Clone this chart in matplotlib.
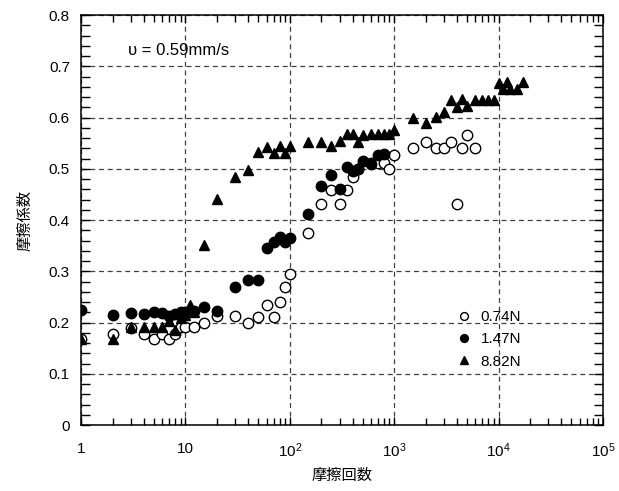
import matplotlib
matplotlib.use('Agg')
import matplotlib.pyplot as plt
from matplotlib.ticker import LogLocator, MultipleLocator, FixedLocator, NullFormatter

plt.rcParams['font.family'] = ['Liberation Sans', 'Noto Sans CJK JP']
plt.rcParams['mathtext.fontset'] = 'custom'
plt.rcParams['mathtext.rm'] = 'Liberation Sans'

# 0.74N
x_074 = [1, 2, 3, 4, 5, 6, 7, 8, 9, 10, 12, 15, 20, 30, 40, 50, 60, 70, 80, 90, 100,
         150, 200, 250, 300, 350, 400, 450, 600, 700, 800, 900, 1000,
         1500, 2000, 2500, 3000, 3500, 4000, 4500, 5000, 6000]
y_074 = [0.169, 0.178, 0.19, 0.178, 0.169, 0.178, 0.169, 0.178, 0.192, 0.192,
         0.192, 0.2, 0.214, 0.214, 0.199, 0.212, 0.234, 0.212, 0.24, 0.269, 0.296,
         0.376, 0.432, 0.459, 0.432, 0.459, 0.485, 0.5,
         0.512, 0.512, 0.512, 0.5, 0.527,
         0.54, 0.553, 0.54, 0.54, 0.553, 0.431, 0.54, 0.566, 0.54]

# 1.47N
x_147 = [1, 2, 3, 4, 5, 6, 7, 8, 9, 10, 12, 15, 20, 30, 40, 50, 60, 70, 80, 90, 100,
         150, 200, 250, 300, 350, 400, 450, 500, 600, 700, 800]
y_147 = [0.225, 0.215, 0.219, 0.217, 0.221, 0.218, 0.214, 0.217, 0.22, 0.22,
         0.223, 0.23, 0.223, 0.27, 0.283, 0.283, 0.345, 0.358, 0.368, 0.357, 0.366,
         0.412, 0.467, 0.488, 0.461, 0.503, 0.496, 0.5, 0.516, 0.509, 0.527, 0.529]

# 8.82N
x_882 = [1, 2, 3, 4, 5, 6, 7, 8, 9, 10, 11, 12, 15, 20, 30, 40, 50, 60, 70, 80, 90, 100,
         150, 200, 250, 300, 350, 400, 450, 500, 600, 700, 800, 900, 1000,
         1500, 2000, 2500, 3000, 3500, 4000, 4500, 5000, 6000, 7000, 8000, 9000,
         10000, 11000, 12000, 13000, 15000, 17000]
y_882 = [0.168, 0.168, 0.192, 0.191, 0.191, 0.191, 0.204, 0.186, 0.21, 0.215, 0.235, 0.22,
         0.352, 0.442, 0.485, 0.498, 0.533, 0.543, 0.532, 0.545, 0.532, 0.545,
         0.553, 0.553, 0.545, 0.555, 0.568, 0.568, 0.553, 0.566,
         0.568, 0.568, 0.568, 0.568, 0.576,
         0.6, 0.59, 0.601, 0.612, 0.634, 0.621, 0.636, 0.623, 0.634, 0.634, 0.634, 0.634,
         0.668, 0.657, 0.67, 0.657, 0.657, 0.67]

labels = ['0.74N', '1.47N', '8.82N']
xticks = [1, 10, 100, 1000, 10000, 100000]
xtick_labels = ['1', '10', r'$\mathregular{10^{2}}$', r'$\mathregular{10^{3}}$',
                r'$\mathregular{10^{4}}$', r'$\mathregular{10^{5}}$']
yticks = [0, 0.1, 0.2, 0.3, 0.4, 0.5, 0.6, 0.7, 0.8]
ytick_labels = ['0', '0.1', '0.2', '0.3', '0.4', '0.5', '0.6', '0.7', '0.8']

fig = plt.figure(figsize=(6.19, 4.91), dpi=100)
ax = fig.add_axes([0.131, 0.134, 0.843, 0.835])

ms = 7.5
ax.plot(x_074, y_074, 'o', ms=ms, mfc='white', mec='black', mew=1.0, label=labels[0])
ax.plot(x_147, y_147, 'o', ms=ms, mfc='black', mec='black', mew=1.0, label=labels[1])
ax.plot(x_882, y_882, '^', ms=ms, mfc='black', mec='black', mew=1.0, label=labels[2])

ax.set_xscale('log')
ax.set_xlim(1, 1e5)
ax.set_ylim(0, 0.8)
ax.xaxis.set_major_locator(FixedLocator(xticks))
ax.set_xticklabels(xtick_labels)
ax.xaxis.set_minor_locator(LogLocator(base=10, subs=range(2, 10), numticks=20))
ax.xaxis.set_minor_formatter(NullFormatter())
ax.set_yticks(yticks)
ax.set_yticklabels(ytick_labels)
ax.yaxis.set_minor_locator(MultipleLocator(0.02))

ax.grid(True, which='major', color='0.25', linestyle=(0, (4, 3)), linewidth=0.9)
ax.tick_params(which='both', direction='in', top=True, right=True, labelsize=11, width=1.0)
ax.tick_params(axis='y', which='major', length=6.5, pad=8)
ax.tick_params(axis='y', which='minor', length=6.5)
ax.tick_params(axis='x', which='major', length=6, pad=12)
ax.tick_params(axis='x', which='minor', length=5)
for s in ax.spines.values():
    s.set_linewidth(1.1)

ax.text(0.09, 0.915, 'υ = 0.59mm/s', transform=ax.transAxes, fontsize=12, va='center')

ax.set_xlabel('摩擦回数', fontsize=11, labelpad=6)
ax.set_ylabel('摩擦係数', fontsize=11, labelpad=12)

ax.legend(loc='upper left', bbox_to_anchor=(0.7, 0.296), frameon=False, fontsize=11,
          markerscale=0.75, handletextpad=0.35, labelspacing=0.55, handlelength=1.5,
          borderaxespad=0)

fig.savefig('out.png', dpi=100)
